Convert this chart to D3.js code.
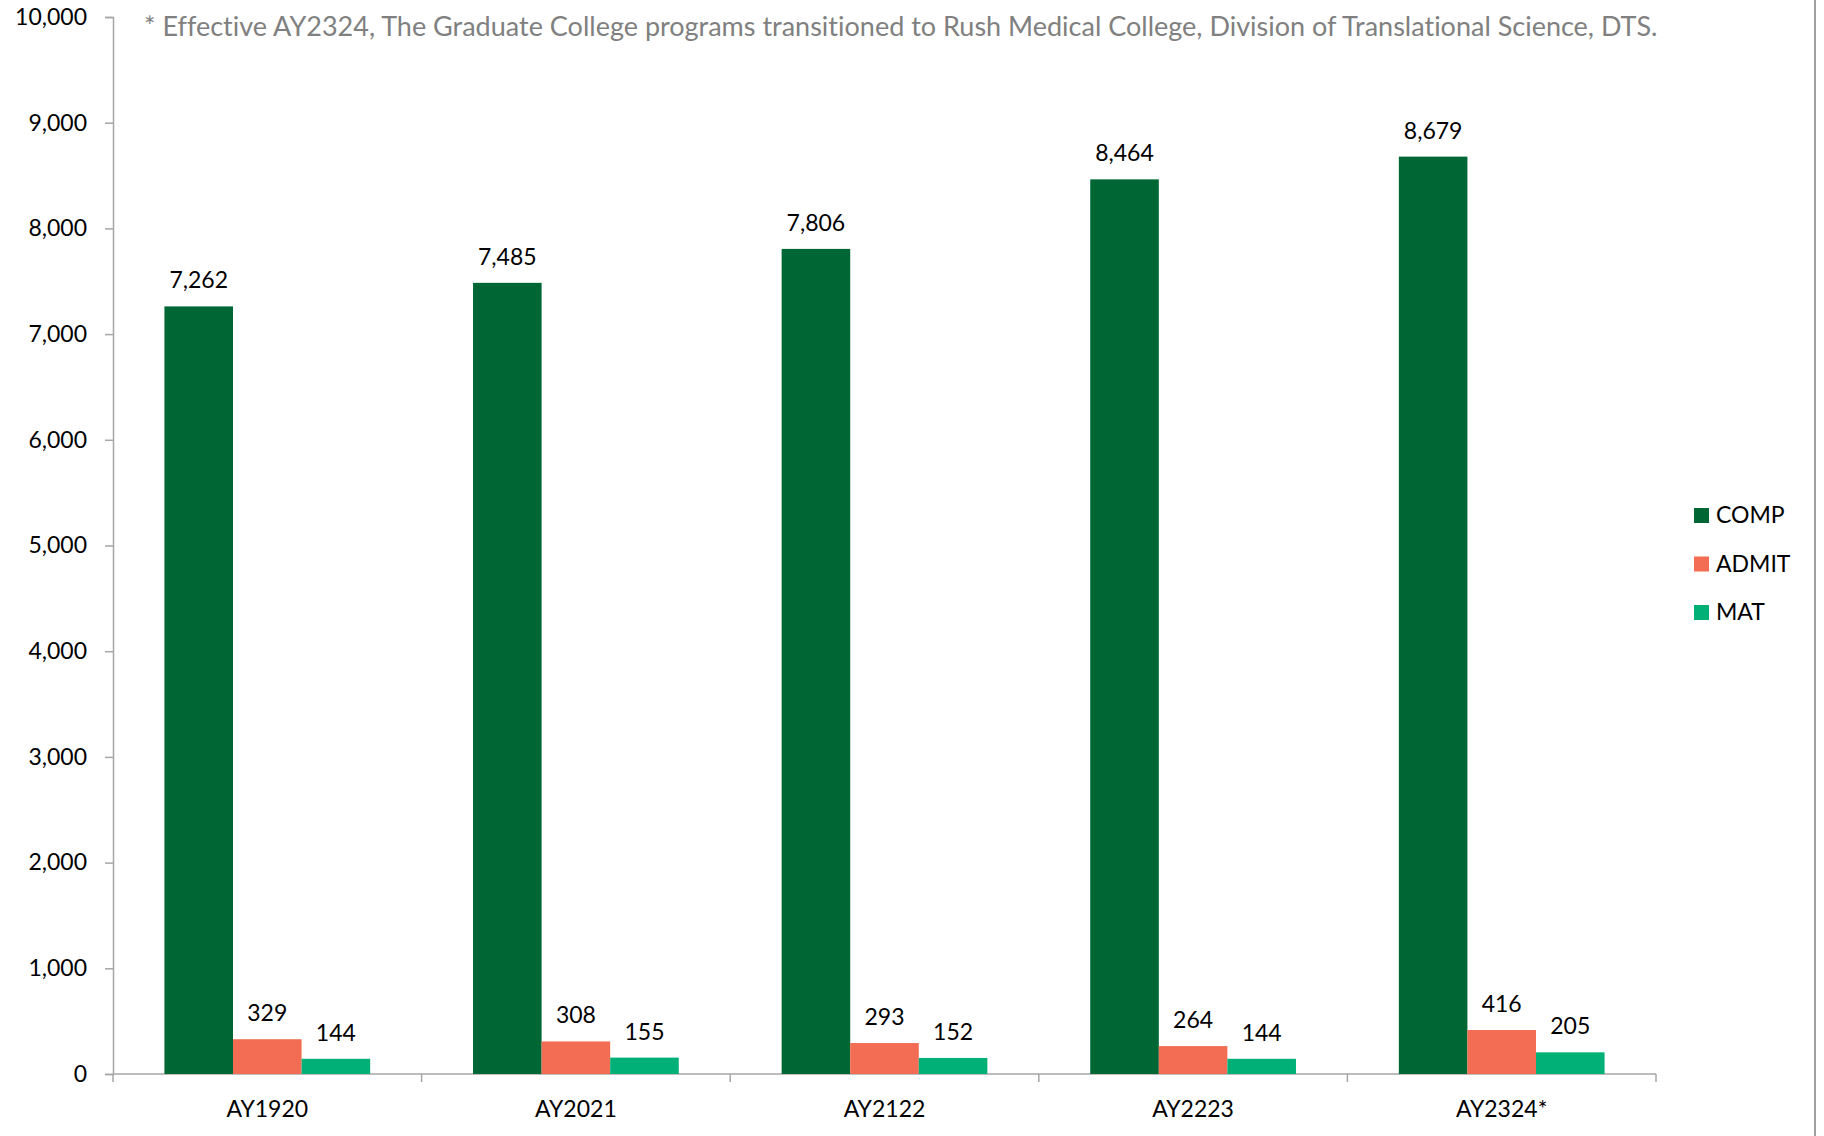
<!DOCTYPE html>
<html>
<head>
<meta charset="utf-8">
<script src="https://cdn.jsdelivr.net/npm/d3@7"></script>
<style>
  html, body { margin: 0; padding: 0; background: #fff; }
  svg { display: block; font-family: Lato, "Noto Sans", sans-serif; font-variant-ligatures: none; }
</style>
</head>
<body>
<div id="chart"></div>
<script>
// Data
const categories = ["AY1920", "AY2021", "AY2122", "AY2223", "AY2324*"];
const seriesNames = ["COMP", "ADMIT", "MAT"];
const compValues = [7262, 7485, 7806, 8464, 8679];
const admitValues = [329, 308, 293, 264, 416];
const matValues = [144, 155, 152, 144, 205];
const yTicks = [0, 1000, 2000, 3000, 4000, 5000, 6000, 7000, 8000, 9000, 10000];
const footnote = "* Effective AY2324, The Graduate College programs transitioned to Rush Medical College, Division of Translational Science, DTS.";

const colors = {"COMP": "#006633", "ADMIT": "#f26d53", "MAT": "#00b077"};

// Chart dimensions
let dim = {
    'width': 1824,
    'height': 1136
};
const plot = {left: 113, right: 1656, top: 17, bottom: 1074};

// one row per category, one key per series
const table = categories.map((c, i) => ({
    cat: c,
    COMP: compValues[i],
    ADMIT: admitValues[i],
    MAT: matValues[i]
}));

// Scales
let x = d3.scaleBand()
    .domain(categories)
    .range([plot.left, plot.right]);

// bars inside a category, gap width 150% like the original
let xInner = d3.scaleBand()
    .domain(seriesNames)
    .range([0, x.bandwidth()])
    .paddingInner(0)
    .paddingOuter(0.75);

let y = d3.scaleLinear()
    .domain([0, 10000])
    .range([plot.bottom, plot.top]);

let svg = d3.select('#chart')
    .append('svg')
    .attr('width', dim.width)
    .attr('height', dim.height);

const axisColor = "#a6a6a6";

// y axis
let yAxis = svg.append('g')
    .attr('transform', `translate(${plot.left}, 0)`)
    .call(d3.axisLeft(y).tickValues(yTicks).tickFormat(d3.format(",")).tickSize(8).tickPadding(18));
yAxis.select('.domain').attr('stroke', axisColor).attr('stroke-width', 1.5);
yAxis.selectAll('.tick line').attr('stroke', axisColor).attr('stroke-width', 1.5);
yAxis.selectAll('.tick text')
    .attr('fill', '#000')
    .style('font-size', '23px')
    .style('font-family', 'Lato, sans-serif');

// x axis, ticks sit between categories
let xAxis = svg.append('g')
    .attr('transform', `translate(0, ${plot.bottom})`);
xAxis.append('line')
    .attr('x1', plot.left).attr('x2', plot.right)
    .attr('stroke', axisColor).attr('stroke-width', 1.5);
xAxis.selectAll('.sep')
    .data(categories.concat(["_end"]))
    .join('line')
    .attr('class', 'sep')
    .attr('x1', (d, i) => i < categories.length ? x(d) : plot.right)
    .attr('x2', (d, i) => i < categories.length ? x(d) : plot.right)
    .attr('y1', 0).attr('y2', 8)
    .attr('stroke', axisColor).attr('stroke-width', 1.5);
xAxis.selectAll('.cat')
    .data(categories)
    .join('text')
    .attr('class', 'cat')
    .attr('x', d => x(d) + x.bandwidth() / 2)
    .attr('y', 43)
    .attr('text-anchor', 'middle')
    .style('font-size', '23px')
    .attr('fill', '#000')
    .text(d => d);

// Bars
const groups = svg.selectAll('.grp')
    .data(table)
    .join('g')
    .attr('class', 'grp')
    .attr('transform', d => `translate(${x(d.cat)}, 0)`);

groups.selectAll('rect')
    .data(d => seriesNames.map(k => ({key: k, value: d[k]})))
    .join('rect')
    .attr('x', d => xInner(d.key))
    .attr('width', xInner.bandwidth())
    .attr('y', d => y(d.value))
    .attr('height', d => y(0) - y(d.value))
    .attr('fill', d => colors[d.key]);

// value labels above the bars
groups.selectAll('.val')
    .data(d => seriesNames.map(k => ({key: k, value: d[k]})))
    .join('text')
    .attr('class', 'val')
    .attr('x', d => xInner(d.key) + xInner.bandwidth() / 2)
    .attr('y', d => y(d.value) - 18)
    .attr('text-anchor', 'middle')
    .style('font-size', '23px')
    .attr('fill', '#000')
    .text(d => d3.format(",")(d.value));

// Legend
const legend = svg.append('g')
    .attr('transform', 'translate(1694, 508)');
const item = legend.selectAll('g')
    .data(seriesNames)
    .join('g')
    .attr('transform', (d, i) => `translate(0, ${i * 48.5})`);
item.append('rect')
    .attr('width', 15).attr('height', 15)
    .attr('fill', d => colors[d]);
item.append('text')
    .attr('x', 22).attr('y', 15)
    .style('font-size', '23px')
    .attr('fill', '#000')
    .text(d => d);

// footnote
svg.append('text')
    .attr('x', 144).attr('y', 36)
    .style('font-size', '27px')
    .attr('fill', '#808080')
    .text(footnote);

// right edge of the chart frame
svg.append('line')
    .attr('x1', 1815).attr('x2', 1815)
    .attr('y1', 0).attr('y2', dim.height)
    .attr('stroke', '#a0a0a0').attr('stroke-width', 2);
</script>
</body>
</html>
